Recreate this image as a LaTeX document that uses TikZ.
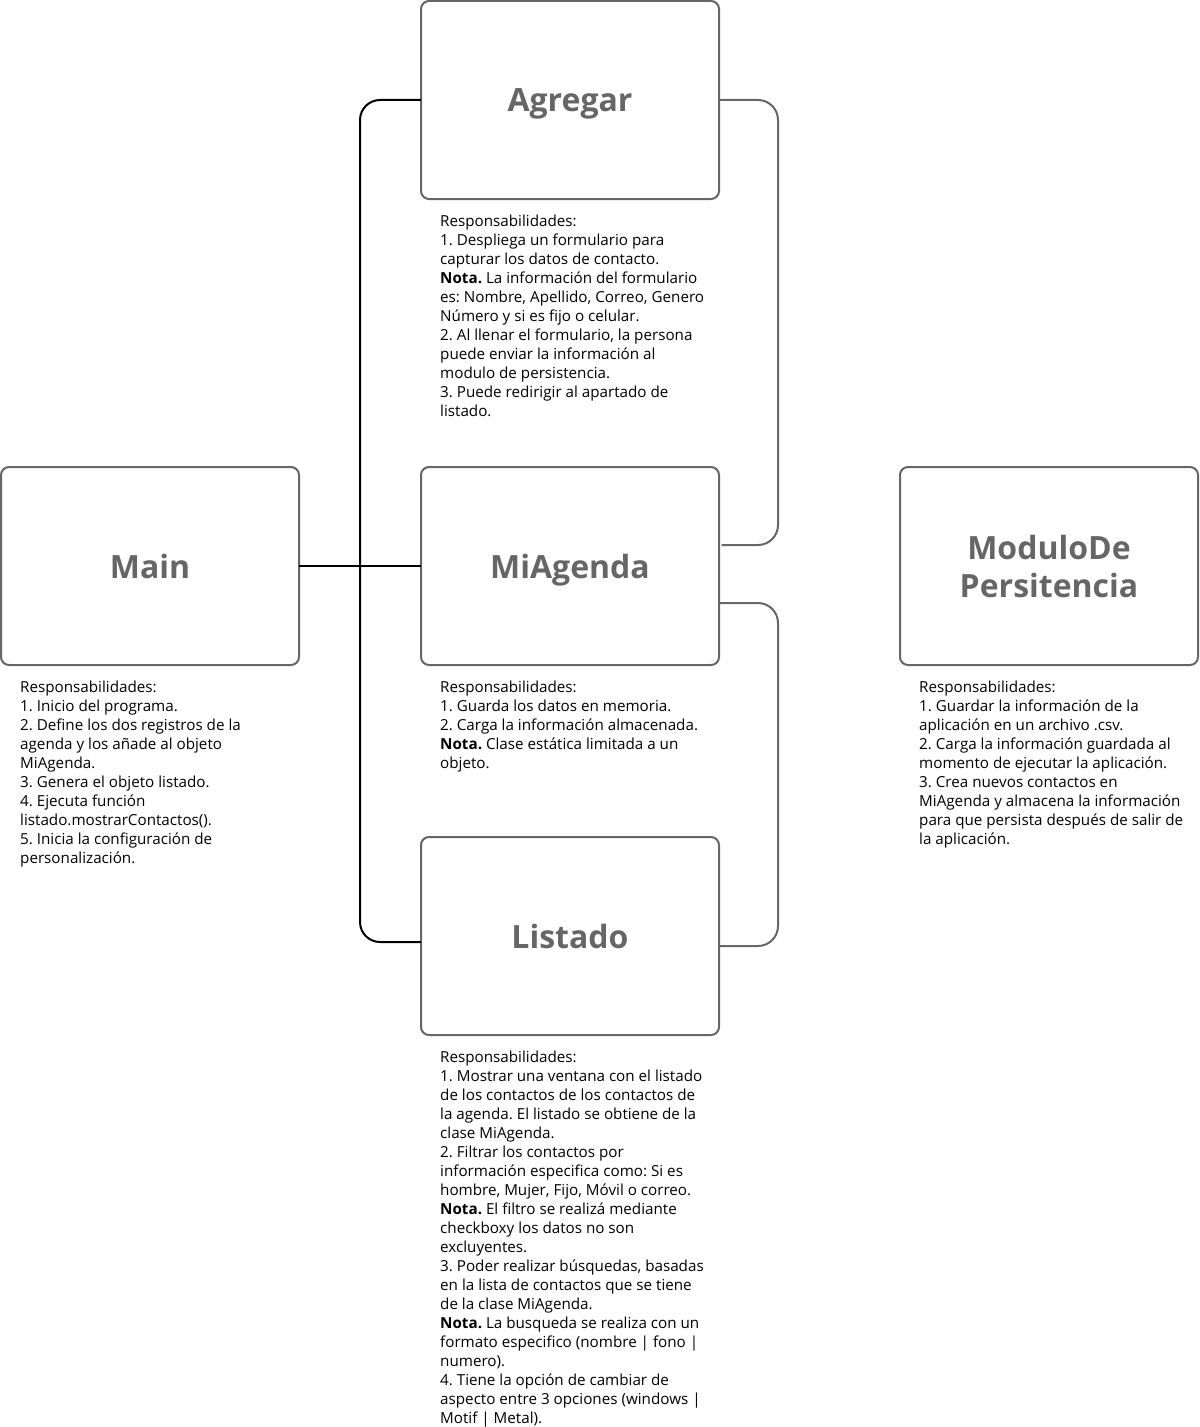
\documentclass[tikz,border=0pt]{standalone}
\usepackage{fontspec}
\setmainfont{Open Sans}
\usetikzlibrary{positioning}
\definecolor{boxgray}{HTML}{666666}

\begin{document}
\frenchspacing
\begin{tikzpicture}[x=0.75pt,y=-0.75pt,thick,node distance=91.5pt,
  class node/.style={rectangle,rounded corners=6pt,draw=boxgray,line width=1.5pt,outer sep=0pt,
    minimum width=223.5pt,minimum height=148.5pt,align=center,text=boxgray,text depth=0pt,
    font=\fontsize{24}{28.5}\selectfont\bfseries},
  resp/.style={inner sep=0pt,align=left,font=\fontsize{11.4}{14.25}\selectfont},
  bus/.style={draw=black,line width=1.5pt,rounded corners=15pt},
  flow/.style={draw=boxgray,line width=1.5pt,rounded corners=15pt}]

  \useasboundingbox (0,0) rectangle (1199,1427);

  \node[class node] (main) at (150,566) {Main};
  \node[class node] (miagenda) [right=of main] {MiAgenda};
  \node[class node] (agregar) [above=201pt of miagenda] {Agregar};
  \node[class node] (listado) [below=129pt of miagenda] {Listado};
  \node[class node] (persistencia) [right=135.75pt of miagenda] {ModuloDe\\Persitencia};

  % responsabilidades de cada clase
  \node[resp] (resp main) [below right=11.5pt and 14pt of main.south west] {Responsabilidades:\\
    1. Inicio del programa.\\
    2. Define los dos registros de la\\
    agenda y los añade al objeto\\
    MiAgenda.\\
    3. Genera el objeto listado.\\
    4. Ejecuta función\\
    listado.mostrarContactos().\\
    5. Inicia la configuración de\\
    personalización.};
  \node[resp] (resp agregar) [below right=11.5pt and 14pt of agregar.south west] {Responsabilidades:\\
    1. Despliega un formulario para\\
    capturar los datos de contacto.\\
    \textbf{Nota.} La información del formulario\\
    es: Nombre, Apellido, Correo, Genero\\
    Número y si es fijo o celular.\\
    2. Al llenar el formulario, la persona\\
    puede enviar la información al\\
    modulo de persistencia.\\
    3. Puede redirigir al apartado de\\
    listado.};
  \node[resp] (resp miagenda) [below right=11.5pt and 14pt of miagenda.south west] {Responsabilidades:\\
    1. Guarda los datos en memoria.\\
    2. Carga la información almacenada.\\
    \textbf{Nota.} Clase estática limitada a un\\
    objeto.};
  \node[resp] (resp listado) [below right=11.5pt and 14pt of listado.south west] {Responsabilidades:\\
    1. Mostrar una ventana con el listado\\
    de los contactos de los contactos de\\
    la agenda. El listado se obtiene de la\\
    clase MiAgenda.\\
    2. Filtrar los contactos por\\
    información especifica como: Si es\\
    hombre, Mujer, Fijo, Móvil o correo.\\
    \textbf{Nota.} El filtro se realizá mediante\\
    checkboxy los datos no son\\
    excluyentes.\\
    3. Poder realizar búsquedas, basadas\\
    en la lista de contactos que se tiene\\
    de la clase MiAgenda.\\
    \textbf{Nota.} La busqueda se realiza con un\\
    formato especifico (nombre | fono |\\
    numero).\\
    4. Tiene la opción de cambiar de\\
    aspecto entre 3 opciones (windows |\\
    Motif | Metal).};
  \node[resp] (resp persistencia) [below right=11.5pt and 14pt of persistencia.south west] {Responsabilidades:\\
    1. Guardar la información de la\\
    aplicación en un archivo .csv.\\
    2. Carga la información guardada al\\
    momento de ejecutar la aplicación.\\
    3. Crea nuevos contactos en\\
    MiAgenda y almacena la información\\
    para que persista después de salir de\\
    la aplicación.};

  % conexiones
  \draw[bus] (main) -- (miagenda);
  \draw[bus] (agregar.west) -- ++(-45.75pt,0) |- ([yshift=-4.5pt]listado.west);
  \draw[flow] (agregar.east) -- ++(44.25pt,0) |- ([xshift=2pt,yshift=15.75pt]miagenda.east);
  \draw[flow] ([yshift=-27.75pt]miagenda.east) -- ++(44.25pt,0) |- ([yshift=-7.5pt]listado.east);
\end{tikzpicture}
\end{document}
